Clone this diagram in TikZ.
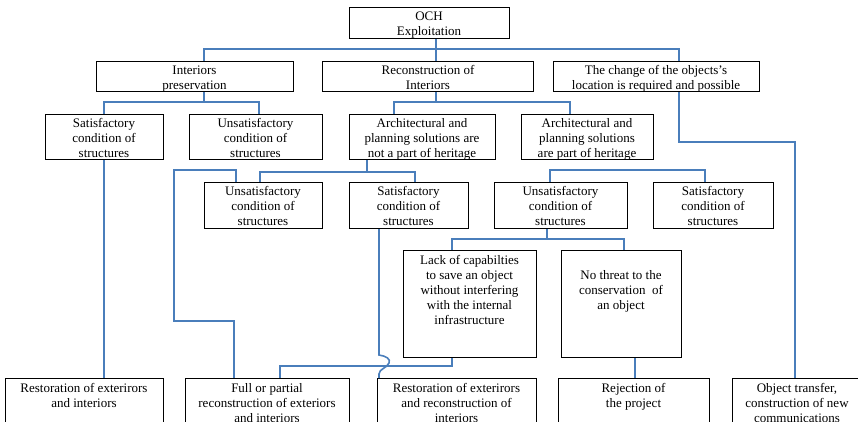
\documentclass[tikz,border=0pt]{standalone}
\usepackage{fontspec}
\setmainfont{Liberation Serif}
\definecolor{linkblue}{HTML}{4A7EBB}
\tikzset{
  box/.style={draw=black, line width=1pt, anchor=north west, inner sep=0pt},
  lbl/.style={align=center, inner sep=0pt, yshift=-3pt, font=\fontsize{13}{15}\selectfont,
    execute at begin node=\strut, execute at end node=\strut},
  conn/.style={draw=linkblue, line width=2pt, line join=miter},
}
\begin{document}
\begin{tikzpicture}[x=1pt, y=-1pt]
\useasboundingbox (0,0) rectangle (858,422);
\clip (0,0) rectangle (858,422);

% level 0
\node[box, minimum width=160, minimum height=31] (och) at (349,7) {};
\node[lbl] (toch) at (429,23) {OCH\\Exploitation};

% level 1
\node[box, minimum width=197, minimum height=30] (ip) at (96,61) {};
\node[lbl] (tip) at (194.5,76.5) {Interiors\\preservation};
\node[box, minimum width=211, minimum height=30] (rc) at (322,61) {};
\node[lbl] (trc) at (428,76.5) {Reconstruction of\\Interiors};
\node[box, minimum width=206, minimum height=30] (ch) at (553,61) {};
\node[lbl] (tch) at (656,76.5) {The change of the objects’s\\location is required and possible};

% level 2
\node[box, minimum width=118, minimum height=45] (s1) at (45,114) {};
\node[lbl] (ts1) at (104,137) {Satisfactory\\condition of\\structures};
\node[box, minimum width=133, minimum height=45] (u1) at (189,114) {};
\node[lbl] (tu1) at (255.5,137) {Unsatisfactory\\condition of\\structures};
\node[box, minimum width=146, minimum height=45] (a1) at (349,114) {};
\node[lbl] (ta1) at (422,137) {Architectural and\\planning solutions are\\not a part of heritage};
\node[box, minimum width=132, minimum height=45] (a2) at (521,114) {};
\node[lbl] (ta2) at (587,137) {Architectural and\\planning solutions\\are part of heritage};

% level 3
\node[box, minimum width=118, minimum height=46] (u2) at (204,182) {};
\node[lbl] (tu2) at (263,205) {Unsatisfactory\\condition of\\structures};
\node[box, minimum width=119, minimum height=46] (s2) at (349,182) {};
\node[lbl] (ts2) at (408.5,205) {Satisfactory\\condition of\\structures};
\node[box, minimum width=133, minimum height=46] (u3) at (494,182) {};
\node[lbl] (tu3) at (560.5,205) {Unsatisfactory\\condition of\\structures};
\node[box, minimum width=120, minimum height=46] (s3) at (653,182) {};
\node[lbl] (ts3) at (713,205) {Satisfactory\\condition of\\structures};

% level 4
\node[box, minimum width=133, minimum height=107] (lk) at (403,250) {};
\node[lbl] (tlk) at (469.5,289) {Lack of capabilties\\to save an object\\without interfering\\with the internal\\infrastructure};
\node[box, minimum width=120, minimum height=107] (nt) at (561,250) {};
\node[lbl] (tnt) at (621,289) {No threat to the\\conservation\ \ of\\an object};

% outcomes
\node[box, minimum width=158, minimum height=60] (b1) at (5,378) {};
\node[lbl] (tb1) at (84,394.5) {Restoration of exterirors\\and interiors};
\node[box, minimum width=164, minimum height=60] (b2) at (185,378) {};
\node[lbl] (tb2) at (267,402) {Full or partial\\reconstruction of exteriors\\and interiors};
\node[box, minimum width=159, minimum height=60] (b3) at (377,378) {};
\node[lbl] (tb3) at (456.5,402) {Restoration of exterirors\\and reconstruction of\\interiors};
\node[box, minimum width=151, minimum height=60] (b4) at (558,378) {};
\node[lbl] (tb4) at (633.5,394.5) {Rejection of\\the project};
\node[box, minimum width=140, minimum height=60] (b5) at (732,378) {};
\node[lbl] (tb5) at (797,402) {Object transfer,\\construction of new\\communications};

% connectors
\draw[conn] (och.south -| 436,0) -- (rc.north -| 436,0);
\draw[conn] (ip.north -| 204,0) -- (204,49) -- (679,49) -- (ch.north -| 679,0);

\draw[conn] (ip.south -| 204,0) -- (204,102);
\draw[conn] (s1.north -| 104,0) -- (104,102) -- (259,102) -- (u1.north -| 259,0);

\draw[conn] (rc.south -| 436,0) -- (436,102);
\draw[conn] (a1.north -| 394,0) -- (394,102) -- (570,102) -- (a2.north -| 570,0);

\draw[conn] (ch.south -| 679,0) -- (679,142) -- (795,142) -- (b5.north -| 795,0);

\draw[conn] (s1.south -| 104,0) -- (b1.north -| 104,0);

\draw[conn] (a1.south -| 367,0) -- (367,172);
\draw[conn] (u2.north -| 260,0) -- (260,172) -- (415,172) -- (s2.north -| 415,0);

\draw[conn] (u2.north -| 236,0) -- (236,170) -- (174,170) -- (174,321) -- (234,321) -- (b2.north -| 234,0);

\draw[conn] (u3.north -| 550,0) -- (550,170) -- (705,170) -- (s3.north -| 705,0);

\draw[conn] (u3.south -| 547,0) -- (547,239);
\draw[conn] (lk.north -| 452,0) -- (452,239) -- (624,239) -- (nt.north -| 624,0);

\draw[conn] (lk.south -| 452,0) -- (452,366) -- (280,366) -- (b2.north -| 280,0);

\draw[conn, line width=1.6pt] (s2.south -| 379,0) -- (379,355)
  .. controls (386,356) and (391,359) .. (389,363)
  .. controls (387,368) and (379,369) .. (379,374)
  -- (b3.north -| 379,0);

\draw[conn] (nt.south -| 635,0) -- (b4.north -| 635,0);
\end{tikzpicture}
\end{document}
